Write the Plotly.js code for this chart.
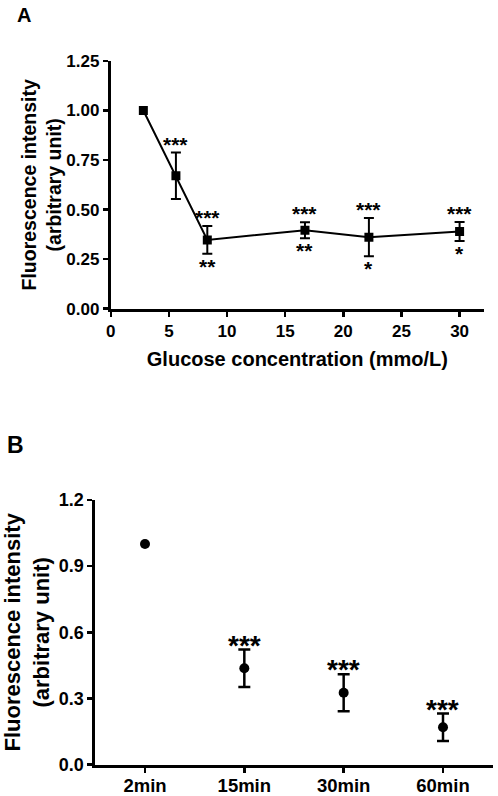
<!DOCTYPE html>
<html>
<head>
<meta charset="utf-8">
<script src="https://cdn.plot.ly/plotly-3.0.1.min.js"></script>
<style>html,body{margin:0;padding:0;background:#fff;}#chart{width:498px;height:796px;}</style>
</head>
<body>
<div id="chart"></div>
<script>
// Panel A: glucose concentration series
const glucoseConc = [2.8, 5.6, 8.3, 16.7, 22.2, 30];
const glucoseFluor = [1.00, 0.671, 0.347, 0.396, 0.361, 0.390];
const glucoseErr = [0, 0.117, 0.070, 0.040, 0.097, 0.048];
const glucoseSigAbove = ["", "***", "***", "***", "***", "***"];
const glucoseSigBelow = ["", "", "**", "**", "*", "*"];

// Panel B: time series
const timeCategories = ["2min", "15min", "30min", "60min"];
const timeFluor = [1.00, 0.437, 0.326, 0.170];
const timeErr = [0, 0.085, 0.084, 0.062];
const timeSigAbove = ["", "***", "***", "***"];

const FONT = "Liberation Sans, Arial, Helvetica, sans-serif";
const catIdx = timeCategories.map((c, i) => i);
const noZero = arr => arr.map(e => (e === 0 ? NaN : e));

const traces = [
  {
    x: glucoseConc, y: glucoseFluor, type: "scatter", mode: "lines+markers",
    xaxis: "x", yaxis: "y",
    line: {color: "#000", width: 2},
    marker: {symbol: "square", size: 9, color: "#000"},
    error_y: {type: "data", array: noZero(glucoseErr), visible: true, color: "#000", thickness: 2, width: 5}
  },
  {
    x: catIdx, y: timeFluor, type: "scatter", mode: "markers",
    xaxis: "x2", yaxis: "y2",
    marker: {symbol: "circle", size: 10, color: "#000"},
    error_y: {type: "data", array: noZero(timeErr), visible: true, color: "#000", thickness: 2.5, width: 6}
  }
];

const annotations = [];
glucoseConc.forEach((x, i) => {
  if (glucoseSigAbove[i]) annotations.push({x: x, y: glucoseFluor[i] + glucoseErr[i], xref: "x", yref: "y",
    text: glucoseSigAbove[i], showarrow: false, yanchor: "bottom", yshift: -5,
    font: {family: FONT, size: 21, color: "#000", weight: "bold"}});
  if (glucoseSigBelow[i]) annotations.push({x: x, y: glucoseFluor[i] - glucoseErr[i], xref: "x", yref: "y",
    text: glucoseSigBelow[i], showarrow: false, yanchor: "top", yshift: 1,
    font: {family: FONT, size: 21, color: "#000", weight: "bold"}});
});
catIdx.forEach((x, i) => {
  if (timeSigAbove[i]) annotations.push({x: x, y: timeFluor[i] + timeErr[i], xref: "x2", yref: "y2",
    text: timeSigAbove[i], showarrow: false, yanchor: "bottom", yshift: -13,
    font: {family: FONT, size: 28, color: "#000", weight: "bold"}});
});
annotations.push({x: 0.030, y: 0.9969, xref: "paper", yref: "paper", xanchor: "left", yanchor: "top",
  text: "A", showarrow: false, font: {family: FONT, size: 20, color: "#000", weight: "bold"}});
annotations.push({x: 0.010, y: 0.4593, xref: "paper", yref: "paper", xanchor: "left", yanchor: "top",
  text: "B", showarrow: false, font: {family: FONT, size: 23, color: "#000", weight: "bold"}});

const axisCommon = {
  showline: true, linecolor: "#000", linewidth: 3,
  ticks: "outside", ticklen: 5, tickwidth: 2.5, tickcolor: "#000",
  showgrid: false, zeroline: false, fixedrange: true
};

const layout = {
  width: 498, height: 796,
  margin: {l: 0, r: 0, t: 0, b: 0},
  paper_bgcolor: "#fff", plot_bgcolor: "#fff",
  showlegend: false,
  font: {family: FONT, color: "#000"},
  xaxis: Object.assign({}, axisCommon, {
    domain: [0.2225, 0.9719], range: [0, 32.1], anchor: "y",
    tick0: 0, dtick: 5,
    tickfont: {family: FONT, size: 17, color: "#000", weight: "bold"},
    title: {text: "Glucose concentration (mmo/L)", standoff: 12,
      font: {family: FONT, size: 20, color: "#000", weight: "bold"}}
  }),
  yaxis: Object.assign({}, axisCommon, {
    domain: [0.6122, 0.9234], range: [0, 1.25], anchor: "x",
    tick0: 0, dtick: 0.25, tickformat: ".2f",
    tickfont: {family: FONT, size: 17, color: "#000", weight: "bold"},
    title: {text: "Fluorescence intensity<br>(arbitrary unit)", standoff: 0,
      font: {family: FONT, size: 19.5, color: "#000", weight: "bold"}}
  }),
  xaxis2: Object.assign({}, axisCommon, {
    domain: [0.1914, 0.9893], range: [-0.5, 3.5], anchor: "y2",
    tickvals: catIdx, ticktext: timeCategories, ticklabelstandoff: -3,
    tickfont: {family: FONT, size: 18.5, color: "#000", weight: "bold"}
  }),
  yaxis2: Object.assign({}, axisCommon, {
    domain: [0.0393, 0.3719], range: [0, 1.2], anchor: "x2",
    tick0: 0, dtick: 0.3, tickformat: ".1f",
    tickfont: {family: FONT, size: 18, color: "#000", weight: "bold"},
    title: {text: "Fluorescence intensity<br>(arbitrary unit)", standoff: 5,
      font: {family: FONT, size: 22, color: "#000", weight: "bold"}}
  }),
  annotations: annotations
};

Plotly.newPlot("chart", traces, layout, {staticPlot: true, displayModeBar: false});
</script>
</body>
</html>
